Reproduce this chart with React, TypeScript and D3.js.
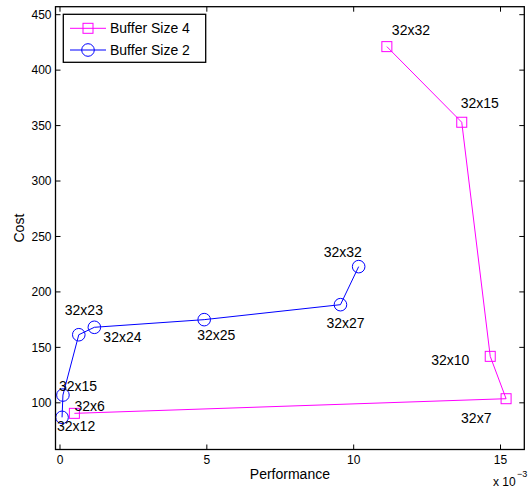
import React from "react";
import * as d3 from "d3";

// ---- data ----
const buf4Labels = ["32x32", "32x15", "32x10", "32x7", "32x6"];
const buf4Perf = [11.13, 13.68, 14.65, 15.19, 0.49]; // x 10^-3
const buf4Cost = [421.2, 353.0, 141.9, 103.7, 90.5];

const buf2Labels = ["32x12", "32x15", "32x23", "32x24", "32x25", "32x27", "32x32"];
const buf2Perf = [0.07, 0.1, 0.64, 1.17, 4.91, 9.55, 10.17];
const buf2Cost = [86.9, 107.0, 161.4, 168.1, 175.0, 188.5, 222.8];

const xTicks = [0, 5, 10, 15];
const yTicks = [100, 150, 200, 250, 300, 350, 400, 450];
const seriesNames = ["Buffer Size 4", "Buffer Size 2"];

// label offsets in px (style only)
const buf4LabelOffsets: [number, number][] = [
  [5, -12], [-1, -14], [-59, 9], [-45, 24], [0, -2],
];
const buf2LabelOffsets: [number, number][] = [
  [-5, 14], [-4, -4], [-14, -20], [9, 15], [-7, 20], [-14, 23], [-35, -10],
];

const W = 529;
const H = 492;
const left = 55.5, right = 524.3, top = 6.7, bottom = 449.5;
const FONT = "'Liberation Sans', Arial, Helvetica, sans-serif";
const MAG = "#ff00ff";
const BLUE = "#0000ff";

export default function App() {
  const x = d3.scaleLinear().domain([-0.153, 15.81]).range([left, right]);
  const y = d3.scaleLinear().domain([57.9, 457.2]).range([bottom, top]);
  const line = d3
    .line<[number, number]>()
    .x((d) => x(d[0]))
    .y((d) => y(d[1]));
  const pts4: [number, number][] = buf4Perf.map((v, i) => [v, buf4Cost[i]]);
  const pts2: [number, number][] = buf2Perf.map((v, i) => [v, buf2Cost[i]]);
  const tickLen = 5;

  return (
    <svg width={W} height={H} style={{ position: "absolute", left: 0, top: 0 }} fontFamily={FONT}>
      <rect x={0} y={0} width={W} height={H} fill="white" />
      {/* ticks */}
      {xTicks.map((t) => (
        <g key={"xt" + t}>
          <line x1={x(t)} x2={x(t)} y1={bottom} y2={bottom - tickLen} stroke="black" />
          <line x1={x(t)} x2={x(t)} y1={top} y2={top + tickLen} stroke="black" />
          <text x={x(t)} y={464} fontSize={12} textAnchor="middle">{t}</text>
        </g>
      ))}
      {yTicks.map((t) => (
        <g key={"yt" + t}>
          <line x1={left} x2={left + tickLen} y1={y(t)} y2={y(t)} stroke="black" />
          <line x1={right} x2={right - tickLen} y1={y(t)} y2={y(t)} stroke="black" />
          <text x={51.5} y={y(t)} dy="0.35em" fontSize={12} textAnchor="end">{t}</text>
        </g>
      ))}
      {/* series */}
      <path d={line(pts4) || ""} fill="none" stroke={MAG} strokeWidth={1} />
      {pts4.map((p, i) => (
        <rect key={"s" + i} x={x(p[0]) - 5} y={y(p[1]) - 5} width={10} height={10} fill="none" stroke={MAG} strokeWidth={1} />
      ))}
      <path d={line(pts2) || ""} fill="none" stroke={BLUE} strokeWidth={1} />
      {pts2.map((p, i) => (
        <circle key={"c" + i} cx={x(p[0])} cy={y(p[1])} r={6.3} fill="none" stroke={BLUE} strokeWidth={1} />
      ))}
      {/* point labels */}
      {pts4.map((p, i) => (
        <text key={"l4" + i} x={x(p[0]) + buf4LabelOffsets[i][0]} y={y(p[1]) + buf4LabelOffsets[i][1]} fontSize={14}>
          {buf4Labels[i]}
        </text>
      ))}
      {pts2.map((p, i) => (
        <text key={"l2" + i} x={x(p[0]) + buf2LabelOffsets[i][0]} y={y(p[1]) + buf2LabelOffsets[i][1]} fontSize={14}>
          {buf2Labels[i]}
        </text>
      ))}
      {/* frame */}
      <rect x={left} y={top} width={right - left} height={bottom - top} fill="none" stroke="black" strokeWidth={1.3} />
      {/* axis labels */}
      <text x={(left + right) / 2} y={479} fontSize={14} textAnchor="middle">Performance</text>
      <text transform={`translate(24,${(top + bottom) / 2}) rotate(-90)`} fontSize={14} textAnchor="middle">Cost</text>
      <text x={493} y={486} fontSize={12}>x 10</text>
      <text x={517} y={477} fontSize={9}>−3</text>
      {/* legend */}
      <rect x={63.3} y={14.3} width={142.4} height={48} fill="white" stroke="black" strokeWidth={1.3} />
      <line x1={70} x2={106} y1={28.3} y2={28.3} stroke={MAG} />
      <rect x={83} y={23.3} width={10} height={10} fill="none" stroke={MAG} />
      <text x={110} y={28.3} dy="0.35em" fontSize={14}>{seriesNames[0]}</text>
      <line x1={70} x2={106} y1={50} y2={50} stroke={BLUE} />
      <circle cx={88} cy={50} r={6.3} fill="none" stroke={BLUE} />
      <text x={110} y={50} dy="0.35em" fontSize={14}>{seriesNames[1]}</text>
    </svg>
  );
}
